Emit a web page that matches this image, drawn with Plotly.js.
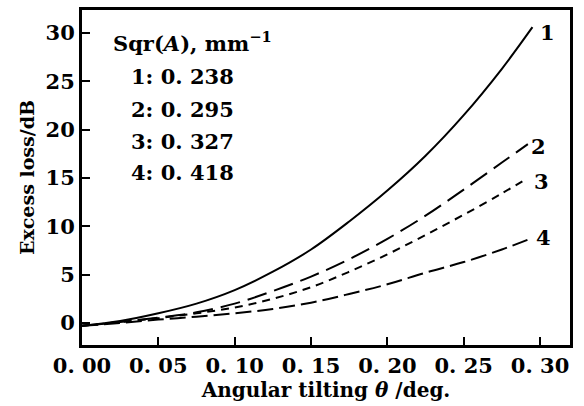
<!DOCTYPE html>
<html>
<head>
<meta charset="utf-8">
<script src="https://cdn.plot.ly/plotly-3.0.1.min.js"></script>
<style>html,body{margin:0;padding:0;background:#fff;}#chart{width:584px;height:406px;}</style>
</head>
<body>
<div id="chart"></div>
<script>
// Data
const theta1 = [0, 0.025, 0.05, 0.075, 0.10, 0.125, 0.15, 0.175, 0.20, 0.225, 0.25, 0.275, 0.295];
const loss1  = [-0.3, 0.2, 1.0, 2.0, 3.4, 5.3, 7.6, 10.5, 13.7, 17.3, 21.5, 26.3, 30.6];
const theta2 = [0, 0.025, 0.05, 0.075, 0.10, 0.125, 0.15, 0.175, 0.20, 0.225, 0.25, 0.275, 0.292];
const loss2  = [-0.3, 0.1, 0.55, 1.1, 2.0, 3.3, 4.8, 6.6, 8.7, 11.1, 13.8, 16.6, 18.5];
const theta3 = [0, 0.025, 0.05, 0.075, 0.10, 0.125, 0.15, 0.175, 0.20, 0.225, 0.25, 0.275, 0.292];
const loss3  = [-0.3, 0.1, 0.5, 1.0, 1.6, 2.5, 3.7, 5.3, 7.1, 9.1, 11.2, 13.4, 15.0];
const theta4 = [0, 0.025, 0.05, 0.075, 0.10, 0.125, 0.15, 0.175, 0.20, 0.225, 0.25, 0.275, 0.295];
const loss4  = [-0.3, 0.0, 0.35, 0.65, 1.0, 1.45, 2.1, 3.0, 4.0, 5.2, 6.3, 7.6, 8.8];

const curveLabels = ["1", "2", "3", "4"];
const sqrA = ["0. 238", "0. 295", "0. 327", "0. 418"];
const xTickVals = [0, 0.05, 0.10, 0.15, 0.20, 0.25, 0.30];
const xTickText = ["0. 00", "0. 05", "0. 10", "0. 15", "0. 20", "0. 25", "0. 30"];
const yTickVals = [0, 5, 10, 15, 20, 25, 30];

const F = "DejaVu Serif";
const dashes = ["solid", "20px,8px", "8px,6px", "16px,6px"];
const xs = [theta1, theta2, theta3, theta4];
const ys = [loss1, loss2, loss3, loss4];

const traces = xs.map((x, i) => ({
  x: x, y: ys[i], type: "scatter", mode: "lines",
  line: {color: "#000", width: 2, dash: dashes[i], shape: "spline", smoothing: 1},
  showlegend: false, hoverinfo: "skip"
}));

const bf = (s) => ({family: F, size: s, color: "#000", weight: "bold"});
const annotations = [];
// curve end labels
const endPos = [[0.305, 30.1], [0.2987, 18.3], [0.301, 14.6], [0.302, 8.8]];
curveLabels.forEach((t, i) => annotations.push({
  x: endPos[i][0], y: endPos[i][1], xref: "x", yref: "y", text: t, showarrow: false,
  xanchor: "center", yanchor: "middle", font: bf(21)
}));
// key text block
annotations.push({
  x: 0.0193, y: 29.07, xref: "x", yref: "y", text: "Sqr(<i>A</i>), mm<sup>−1</sup>",
  showarrow: false, xanchor: "left", yanchor: "middle", font: bf(21)
});
const keyY = [25.45, 22.1, 18.8, 15.6];
curveLabels.forEach((t, i) => annotations.push({
  x: 0.031, y: keyY[i], xref: "x", yref: "y", text: t + ": " + sqrA[i],
  showarrow: false, xanchor: "left", yanchor: "middle", font: bf(21)
}));

const layout = {
  width: 584, height: 406,
  margin: {l: 82, r: 14, t: 10, b: 61},
  paper_bgcolor: "#fff", plot_bgcolor: "#fff",
  font: {family: F, color: "#000", size: 20},
  xaxis: {
    range: [0, 0.3196], tickvals: xTickVals, ticktext: xTickText,
    ticks: "inside", ticklen: 8, tickwidth: 2, tickcolor: "#000",
    showline: true, linewidth: 3, linecolor: "#000", mirror: true,
    showgrid: false, zeroline: false,
    tickfont: bf(21),
    title: {text: "Angular tilting <i>θ</i> /deg.", font: bf(20), standoff: 4}
  },
  yaxis: {
    range: [-2.28, 32.38], tickvals: yTickVals,
    ticks: "inside", ticklen: 8, tickwidth: 2, tickcolor: "#000",
    showline: true, linewidth: 3, linecolor: "#000", mirror: true,
    showgrid: false, zeroline: false,
    tickfont: bf(21),
    title: {text: "Excess loss/dB", font: bf(19), standoff: 6}
  },
  annotations: annotations
};

Plotly.newPlot("chart", traces, layout, {displayModeBar: false, staticPlot: true});
</script>
</body>
</html>
